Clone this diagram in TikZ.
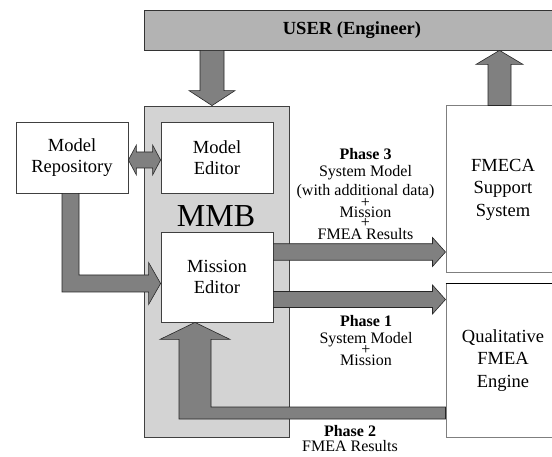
\documentclass[tikz,border=0pt]{standalone}
\usepackage{fontspec}
\setmainfont{Liberation Serif}
\usetikzlibrary{calc}
\definecolor{bargray}{HTML}{B3B3B3}
\definecolor{mmbgray}{HTML}{D3D3D3}
\definecolor{arrgray}{HTML}{808080}
\definecolor{edgegray}{HTML}{404040}
\definecolor{lightedge}{HTML}{7F7F7F}
\begin{document}
\begin{tikzpicture}[x=1pt,y=-1pt,
  box/.style={draw=edgegray, line width=0.8pt, fill=white, rectangle, inner sep=0pt, align=center, font=\fontsize{18.5}{21.5}\selectfont},
  outbox/.style={box, draw=lightedge, line width=1pt, font=\fontsize{18.5}{22.5}\selectfont},
  blockarrow/.style={draw=black!85, line width=0.6pt, fill=arrgray, line join=miter},
  phasetxt/.style={inner sep=0pt, anchor=base, font=\fontsize{16}{18}\selectfont},
  phasehead/.style={inner sep=0pt, anchor=base, font=\fontsize{16}{18}\selectfont\bfseries}]
\useasboundingbox (0,0) rectangle (552,457);
\clip (0,0) rectangle (552,457);

% boxes
\node[draw=black!80, line width=0.8pt, fill=bargray, minimum width=416pt, minimum height=40pt, inner sep=0pt, font=\fontsize{18.5}{21}\selectfont\bfseries] (user) at (352,30) {USER (Engineer)};
\node[draw=edgegray, fill=mmbgray, line width=0.8pt, minimum width=145pt, minimum height=331pt, inner sep=0pt] (mmb) at (216.5,271.5) {};
\node[inner sep=0pt, anchor=base, font=\fontsize{32}{32}\selectfont] (mmblabel) at (216,227) {MMB};
\node[box, minimum width=112pt, minimum height=71pt] (repo) at (72,157.5) {Model\\Repository};
\node[box, minimum width=112pt, minimum height=71pt] (medit) at (217,157.5) {Model\\Editor};
\node[box, minimum width=112pt, minimum height=90pt] (mission) at (217,277) {Mission\\Editor};
\node[outbox, minimum width=114pt, minimum height=167pt] (fmeca) at (503,189.5) {FMECA\\Support\\System};
\node[outbox, minimum width=114pt, minimum height=153pt] (qual) at (503,360.5) {Qualitative\\FMEA\\Engine};
\draw[black, line width=0.8pt] (qual.north west) -- (qual.north east);

% USER -> MMB
\coordinate (dT) at ($(mmb.north)+(-4.5,0)$);
\coordinate (dS) at (user.south -| dT);
\draw[blockarrow] ($(dS)+(-12,0)$) -- ($(dT)+(-12,-15)$) -- ($(dT)+(-23,-15)$) -- (dT) -- ($(dT)+(23,-15)$) -- ($(dT)+(12,-15)$) -- ($(dS)+(12,0)$) -- cycle;

% FMECA -> USER
\coordinate (uS) at ($(fmeca.north)+(-3.5,0)$);
\coordinate (uT) at (user.south -| uS);
\draw[blockarrow] ($(uS)+(-11.5,0)$) -- ($(uT)+(-11.5,14)$) -- ($(uT)+(-23.5,14)$) -- (uT) -- ($(uT)+(23.5,14)$) -- ($(uT)+(11.5,14)$) -- ($(uS)+(11.5,0)$) -- cycle;

% Repository <-> Model Editor
\coordinate (aL) at ($(repo.east)+(0,2.5)$);
\coordinate (aR) at (medit.west |- aL);
\draw[blockarrow] (aL) -- ($(aL)+(8,-15)$) -- ($(aL)+(8,-8)$) -- ($(aR)+(-8,-8)$) -- ($(aR)+(-8,-15)$) -- (aR) -- ($(aR)+(-8,15)$) -- ($(aR)+(-8,8)$) -- ($(aL)+(8,8)$) -- ($(aL)+(8,15)$) -- cycle;

% Repository -> Mission Editor
\coordinate (rS) at ($(repo.south)+(-1.5,0)$);
\coordinate (rT) at ($(mission.west)+(0,6.5)$);
\draw[blockarrow] ($(rS)+(-8.5,0)$) -- ($(rS |- rT)+(-8.5,8.5)$) -- ($(rT)+(-12,8.5)$) -- ($(rT)+(-12,21)$) -- (rT) -- ($(rT)+(-12,-21)$) -- ($(rT)+(-12,-8.5)$) -- ($(rS |- rT)+(8.5,-8.5)$) -- ($(rS)+(8.5,0)$) -- cycle;

% Phase 3: Mission Editor -> FMECA
\coordinate (p3S) at ($(mission.east)+(0,-25)$);
\coordinate (p3T) at (fmeca.west |- p3S);
\draw[blockarrow] ($(p3S)+(0,-8.25)$) -- ($(p3T)+(-13,-8.25)$) -- ($(p3T)+(-13,-14.5)$) -- (p3T) -- ($(p3T)+(-13,14.5)$) -- ($(p3T)+(-13,8.25)$) -- ($(p3S)+(0,8.25)$) -- cycle;

% Phase 1: Mission Editor -> Qualitative
\coordinate (p1S) at ($(mission.east)+(0,22.5)$);
\coordinate (p1T) at (qual.west |- p1S);
\draw[blockarrow] ($(p1S)+(0,-8)$) -- ($(p1T)+(-13,-8)$) -- ($(p1T)+(-13,-14.5)$) -- (p1T) -- ($(p1T)+(-13,14.5)$) -- ($(p1T)+(-13,8)$) -- ($(p1S)+(0,8)$) -- cycle;

% Phase 2: Qualitative -> Mission Editor
\coordinate (p2S) at ($(qual.west)+(0,52.5)$);
\coordinate (p2T) at ($(mission.south)+(-22,0)$);
\draw[blockarrow] ($(p2S)+(0,-6)$) -- ($(p2T |- p2S)+(16,-6)$) -- ($(p2T)+(16,17)$) -- ($(p2T)+(35,17)$) -- (p2T) -- ($(p2T)+(-35,17)$) -- ($(p2T)+(-16,17)$) -- ($(p2T |- p2S)+(-16,6)$) -- ($(p2S)+(0,6)$) -- cycle;

% Phase 3 label
\node[phasehead] (p3a) at (365.5,159.5) {Phase 3};
\node[phasetxt] (p3b) at (365.5,177) {System Model};
\node[phasetxt] (p3c) at (365.5,196) {(with additional data)};
\node[phasetxt] (p3d) at (365.5,208) {+};
\node[phasetxt] (p3e) at (365.5,217.5) {Mission};
\node[phasetxt] (p3f) at (365.5,227.5) {+};
\node[phasetxt] (p3g) at (365.5,239.5) {FMEA Results};

% Phase 1 label
\node[phasehead] (p1a) at (366,326.5) {Phase 1};
\node[phasetxt] (p1b) at (366,343) {System Model};
\node[phasetxt] (p1c) at (366,354) {+};
\node[phasetxt] (p1d) at (366,366) {Mission};

% Phase 2 label
\node[phasehead] (p2a) at (350,436.5) {Phase 2};
\node[phasetxt] (p2b) at (350,451.5) {FMEA Results};
\end{tikzpicture}
\end{document}
